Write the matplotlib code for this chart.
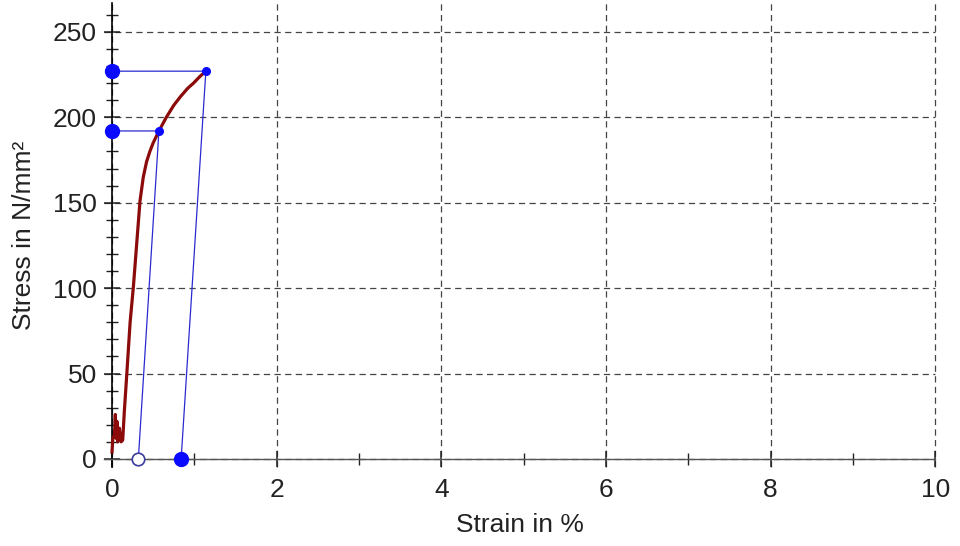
import matplotlib.pyplot as plt
from matplotlib.ticker import MultipleLocator

plt.rcParams['font.family'] = ['Liberation Sans', 'DejaVu Sans']

# measured stress-strain curve
strain = [0.0, 0.01, 0.03, 0.04, 0.05, 0.06, 0.07, 0.09, 0.11, 0.13, 0.15,
          0.18, 0.22, 0.26, 0.30, 0.34, 0.38, 0.42, 0.46, 0.50, 0.57, 0.66,
          0.75, 0.83, 0.92, 0.99, 1.07, 1.14]
stress = [4, 12, 14, 26, 12, 22, 10, 18, 10, 11, 28,
          50, 80, 101, 126, 151, 165, 174, 180, 185, 192, 200,
          207, 212, 217, 220, 224, 227]

# unloading points (peak stress, strain at peak, residual strain)
peak_stress = [227, 192]
peak_strain = [1.14, 0.57]
residual_strain = [0.84, 0.32]
residual_filled = [True, False]

fig = plt.figure(figsize=(9.6, 5.46), dpi=100)
ax = fig.add_axes([0.1081, 0.1438, 0.866, 0.851])

ax.plot(strain, stress, color='#8b0a0a', lw=2.3, zorder=4, clip_on=False)

for s, e, r, filled in zip(peak_stress, peak_strain, residual_strain, residual_filled):
    ax.plot([0, e, r], [s, s, 0], color='#2a2ad0', lw=0.9, zorder=3, clip_on=False)
    ax.plot([0], [s], 'o', color='#0a0aff', ms=10, zorder=6, clip_on=False)
    ax.plot([e], [s], 'o', color='#0a0aff', ms=5.5, zorder=6, clip_on=False)
    if filled:
        ax.plot([r], [0], 'o', color='#0a0aff', ms=10, zorder=6, clip_on=False)
    else:
        ax.plot([r], [0], 'o', mfc='white', mec='#3a3aa0', mew=1.2, ms=9,
                zorder=6, clip_on=False)

ax.set_xlim(-0.1, 10)
ax.set_ylim(-5, 267)
ax.set_xticks(range(0, 11, 2))
ax.xaxis.set_minor_locator(MultipleLocator(1))
ax.yaxis.set_major_locator(MultipleLocator(50))
ax.yaxis.set_minor_locator(MultipleLocator(10))

for side in ['top', 'right']:
    ax.spines[side].set_visible(False)
ax.spines['left'].set_position(('data', 0))
ax.spines['bottom'].set_position(('data', 0))
ax.spines['left'].set_linewidth(1.2)
ax.spines['bottom'].set_linewidth(1.0)
ax.spines['bottom'].set_color('#555555')

ax.grid(True, which='major', ls=(0, (5, 3.5)), color='#444444', lw=0.9)
ax.set_axisbelow(True)
for gl in ax.get_xgridlines() + ax.get_ygridlines():
    gl.set_clip_on(False)

ax.tick_params(axis='both', which='major', direction='inout', length=12,
               width=1.1, labelsize=19, color='#222222')
ax.tick_params(axis='both', which='minor', direction='inout', length=9,
               width=1.0, color='#222222')
ax.tick_params(axis='y', which='major', pad=5)
ax.tick_params(axis='x', which='major', pad=8)

ax.set_xlabel('Strain in %', fontsize=19, color='#222222', labelpad=8)
ax.set_ylabel('Stress in N/mm²', fontsize=19, color='#222222', labelpad=12)
for lab in ax.get_xticklabels() + ax.get_yticklabels():
    lab.set_color('#222222')

fig.savefig('out.png', dpi=100)
